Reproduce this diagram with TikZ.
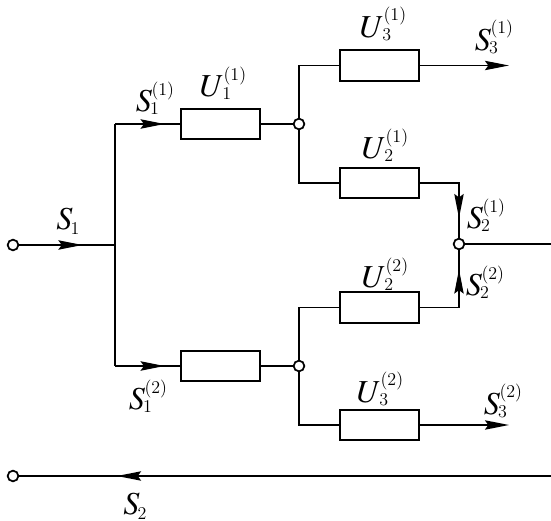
\documentclass[tikz,border=0pt]{standalone}
\usepackage{mathptmx}
\usepackage{tikz}
\usetikzlibrary{arrows.meta}
\tikzset{>={Stealth[length=18pt,width=7pt,inset=2.5pt]}}
\usetikzlibrary{decorations.markings}
\tikzset{
  elem/.style={draw, minimum width=59pt, minimum height=23pt, inner sep=0pt},
  junc/.style={draw, circle, fill=white, minimum size=8pt, inner sep=0pt},
  flow/.style={postaction={decorate}, decoration={markings, mark=at position #1 with {\arrow{>}}}},
  lbl/.style={font=\fontsize{24}{28}\selectfont, inner sep=0pt}
}
\newcommand{\idxfont}{\fontsize{13.5}{14}\selectfont}
\newcommand{\symb}[3]{$#1$\kern-1.5pt\rlap{\raisebox{-2pt}{\idxfont #2}}\kern1pt\raisebox{12.5pt}{\idxfont(#3)}}
\newcommand{\symbs}[2]{$#1$\kern-1.5pt\raisebox{-3.5pt}{\idxfont #2}}

\begin{document}
\begin{tikzpicture}[x=0.75pt, y=-0.75pt, line width=1.3pt]
    \useasboundingbox (0,0) rectangle (551,521);

    \node[junc] (in) at (13,245) {};
    \node[junc] (ret) at (13,476) {};
    \node[junc] (n1) at (299,124) {};
    \node[junc] (n2) at (299,366) {};
    \node[junc] (n3) at (459,244) {};

    \node[elem] (u11) at (220.5,124) {};
    \node[elem] (u12) at (220.5,366) {};
    \node[elem] (u31) at (379.5,65.5) {};
    \node[elem] (u21) at (379.5,183) {};
    \node[elem] (u22) at (379.5,307.5) {};
    \node[elem] (u32) at (379.5,425) {};

    \coordinate (split) at (115,245);
    \coordinate (t1) at (115,124);
    \coordinate (b1) at (115,366);
    \coordinate (o31) at (509,65.5);
    \coordinate (o32) at (509,425);
    \coordinate (o2) at (551,244);
    \coordinate (r2) at (551,476);

    \draw[flow=0.66] (in) -- (split);
    \draw (t1) -- (b1);
    \draw[flow=0.76] (t1) -- (u11);
    \draw[flow=0.76] (b1) -- (u12);
    \draw (u11) -- (n1);
    \draw (u12) -- (n2);
    \draw (n1) |- (u31);
    \draw (n1) |- (u21);
    \draw (n2) |- (u22);
    \draw (n2) |- (u32);
    \draw[->] (u31) -- (o31);
    \draw[->] (u32) -- (o32);
    \draw[flow=0.79] (u21) -| (n3);
    \draw[flow=0.8] (u22) -| (n3);
    \draw (n3) -- (o2);
    \draw[flow=0.816] (r2) -- (ret);

    \node[lbl] (ls1) at (68,221) {\symbs{S}{1}};
    \node[lbl] (ls11) at (155,98) {\symb{S}{1}{1}};
    \node[lbl] (ls12) at (148,396) {\symb{S}{1}{2}};
    \node[lbl] (lu11) at (223,83) {\symb{U}{1}{1}};
    \node[lbl] (lu31) at (383,24) {\symb{U}{3}{1}};
    \node[lbl] (ls31) at (494,37) {\symb{S}{3}{1}};
    \node[lbl] (lu21) at (385,145) {\symb{U}{2}{1}};
    \node[lbl] (ls21) at (486,215) {\symb{S}{2}{1}};
    \node[lbl] (lu22) at (385,274) {\symb{U}{2}{2}};
    \node[lbl] (ls22) at (485,282) {\symb{S}{2}{2}};
    \node[lbl] (lu32) at (380,389) {\symb{U}{3}{2}};
    \node[lbl] (ls32) at (503,401) {\symb{S}{3}{2}};
    \node[lbl] (ls2) at (135,506) {\symbs{S}{2}};
\end{tikzpicture}
\end{document}
